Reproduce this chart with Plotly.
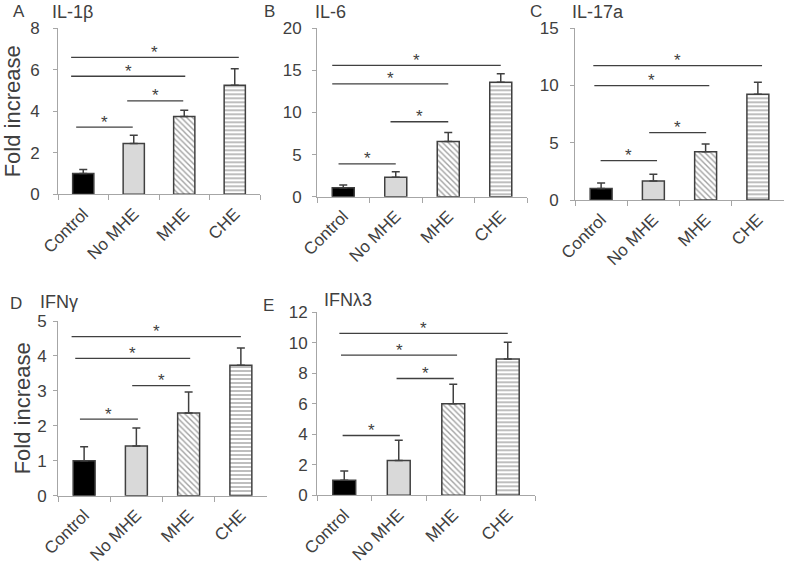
import plotly.graph_objects as go

W, H = 787, 572

categories = ["Control", "No MHE", "MHE", "CHE"]

# Panel data (fold increase, mean and upper SD)
il1b_vals = [1.0, 2.45, 3.75, 5.25]
il1b_err = [0.2, 0.4, 0.3, 0.8]
il6_vals = [1.05, 2.3, 6.55, 13.6]
il6_err = [0.35, 0.65, 1.07, 1.0]
il17a_vals = [1.0, 1.66, 4.22, 9.23]
il17a_err = [0.48, 0.6, 0.67, 1.05]
ifng_vals = [1.0, 1.42, 2.37, 3.73]
ifng_err = [0.4, 0.52, 0.6, 0.5]
ifnl3_vals = [0.98, 2.28, 6.0, 8.93]
ifnl3_err = [0.62, 1.33, 1.29, 1.1]

# significance brackets: (from, to, height) in category/data units
il1b_sig = [(-0.24, 3.08, 6.6), (-0.24, 2.02, 5.69), (0.87, 1.98, 4.5), (-0.14, 0.98, 3.24)]
il6_sig = [(-0.21, 3.0, 15.6), (-0.21, 2.0, 13.4), (0.9, 2.0, 8.9), (-0.09, 1.0, 3.9)]
il17a_sig = [(-0.15, 3.08, 11.74), (-0.13, 2.07, 9.99), (0.92, 2.01, 5.88), (-0.01, 1.07, 3.44)]
ifng_sig = [(-0.24, 3.0, 4.55), (-0.17, 2.03, 3.93), (0.92, 2.03, 3.15), (-0.08, 1.03, 2.19)]
ifnl3_sig = [(-0.09, 3.0, 10.62), (-0.06, 2.07, 9.19), (0.96, 2.01, 7.66), (-0.03, 1.02, 3.92)]

# panel letters / titles
letters = ["A", "B", "C", "D", "E"]
titles = ["IL-1β", "IL-6", "IL-17a", "IFNγ", "IFNλ3"]
y_ranges = [8, 20, 15, 5, 12]
y_dticks = [2, 5, 5, 1, 2]

# pixel layout of each plot area (left, right, top, bottom)
boxes = [
    (58, 260, 28.3, 194.3),
    (317, 527, 28.3, 196.7),
    (575, 784, 28.3, 200),
    (58, 267, 321, 495.7),
    (317, 535, 312.3, 495.3),
]
ylabel_gap = [10, 7, 8, 3, 1]
ytitle_standoff = {0: 4, 3: 0}
letter_pos = [(19, 12), (269, 12), (536, 12), (16, 303), (268, 305)]
title_pos = [(50, 12), (313, 12), (570, 12), (38, 302), (322, 300)]

panels = [
    (il1b_vals, il1b_err, il1b_sig),
    (il6_vals, il6_err, il6_sig),
    (il17a_vals, il17a_err, il17a_sig),
    (ifng_vals, ifng_err, ifng_sig),
    (ifnl3_vals, ifnl3_err, ifnl3_sig),
]

TXT = "#404040"
AX = "#a6a6a6"
FONT = "Liberation Sans, Arial, sans-serif"

fig = go.Figure()
layout = dict(
    width=W, height=H, margin=dict(l=0, r=0, t=0, b=0, autoexpand=False),
    paper_bgcolor="white", plot_bgcolor="white", showlegend=False,
    bargap=0.58, font=dict(family=FONT, color=TXT, size=17),
)
shapes, annotations = [], []

for i, ((vals, err, sig), box) in enumerate(zip(panels, boxes)):
    n = "" if i == 0 else str(i + 1)
    xa, ya = "x" + n, "y" + n
    l, r, t, b = box
    fig.add_trace(go.Bar(
        x=categories, y=vals, xaxis=xa, yaxis=ya,
        marker=dict(
            color=["#000000", "#d9d9d9", "#ffffff", "#ffffff"],
            line=dict(color=TXT, width=1.5),
            pattern=dict(shape=["", "", "\\", "-"], fillmode="overlay",
                         fgcolor=TXT, size=4, solidity=0.35),
        ),
        error_y=dict(type="data", symmetric=False, array=err,
                     arrayminus=[0] * len(err), color=TXT, thickness=1.5, width=4),
        hoverinfo="skip",
    ))
    layout["xaxis" + n] = dict(
        domain=[l / W, r / W], anchor=ya, type="category", automargin=False,
        range=[-0.5, 3.5], showgrid=False, showline=True, linecolor=AX,
        linewidth=1, ticks="outside", tickson="boundaries", ticklen=5,
        tickcolor=AX, tickangle=-45, tickfont=dict(size=17, color=TXT),
        ticklabelstandoff=2, fixedrange=True,
    )
    layout["yaxis" + n] = dict(
        domain=[1 - b / H, 1 - t / H], anchor=xa, range=[0, y_ranges[i]],
        dtick=y_dticks[i], showgrid=False, showline=True, linecolor=AX,
        linewidth=1, ticks="outside", ticklen=4, tickcolor=AX, automargin=False,
        ticklabelstandoff=ylabel_gap[i],
        tickfont=dict(size=17, color=TXT), zeroline=False, fixedrange=True,
    )
    if i in ytitle_standoff:
        layout["yaxis" + n]["title"] = dict(text="Fold increase",
                                            font=dict(size=22, color=TXT),
                                            standoff=ytitle_standoff[i])
    for (x0, x1, yv) in sig:
        shapes.append(dict(type="line", xref=xa, yref=ya, x0=x0, x1=x1,
                           y0=yv, y1=yv, line=dict(color=TXT, width=1.3)))
        annotations.append(dict(xref=xa, yref=ya, x=(x0 + x1) / 2, y=yv,
                                text="*", showarrow=False, yanchor="middle",
                                yshift=5, font=dict(size=17, color=TXT)))
    lx, ly = letter_pos[i]
    annotations.append(dict(xref="paper", yref="paper", x=lx / W, y=1 - ly / H,
                            text=letters[i], showarrow=False, xanchor="center",
                            yanchor="middle", font=dict(size=17, color=TXT)))
    tx, ty = title_pos[i]
    annotations.append(dict(xref="paper", yref="paper", x=tx / W, y=1 - ty / H,
                            text=titles[i], showarrow=False, xanchor="left",
                            yanchor="middle", font=dict(size=18, color=TXT)))

layout["shapes"] = shapes
layout["annotations"] = annotations
fig.update_layout(**layout)
fig.write_html(
    "out.html",
    config={"displayModeBar": False, "staticPlot": True},
    post_script="document.body.style.margin='0';document.body.style.overflow='hidden';",
)
